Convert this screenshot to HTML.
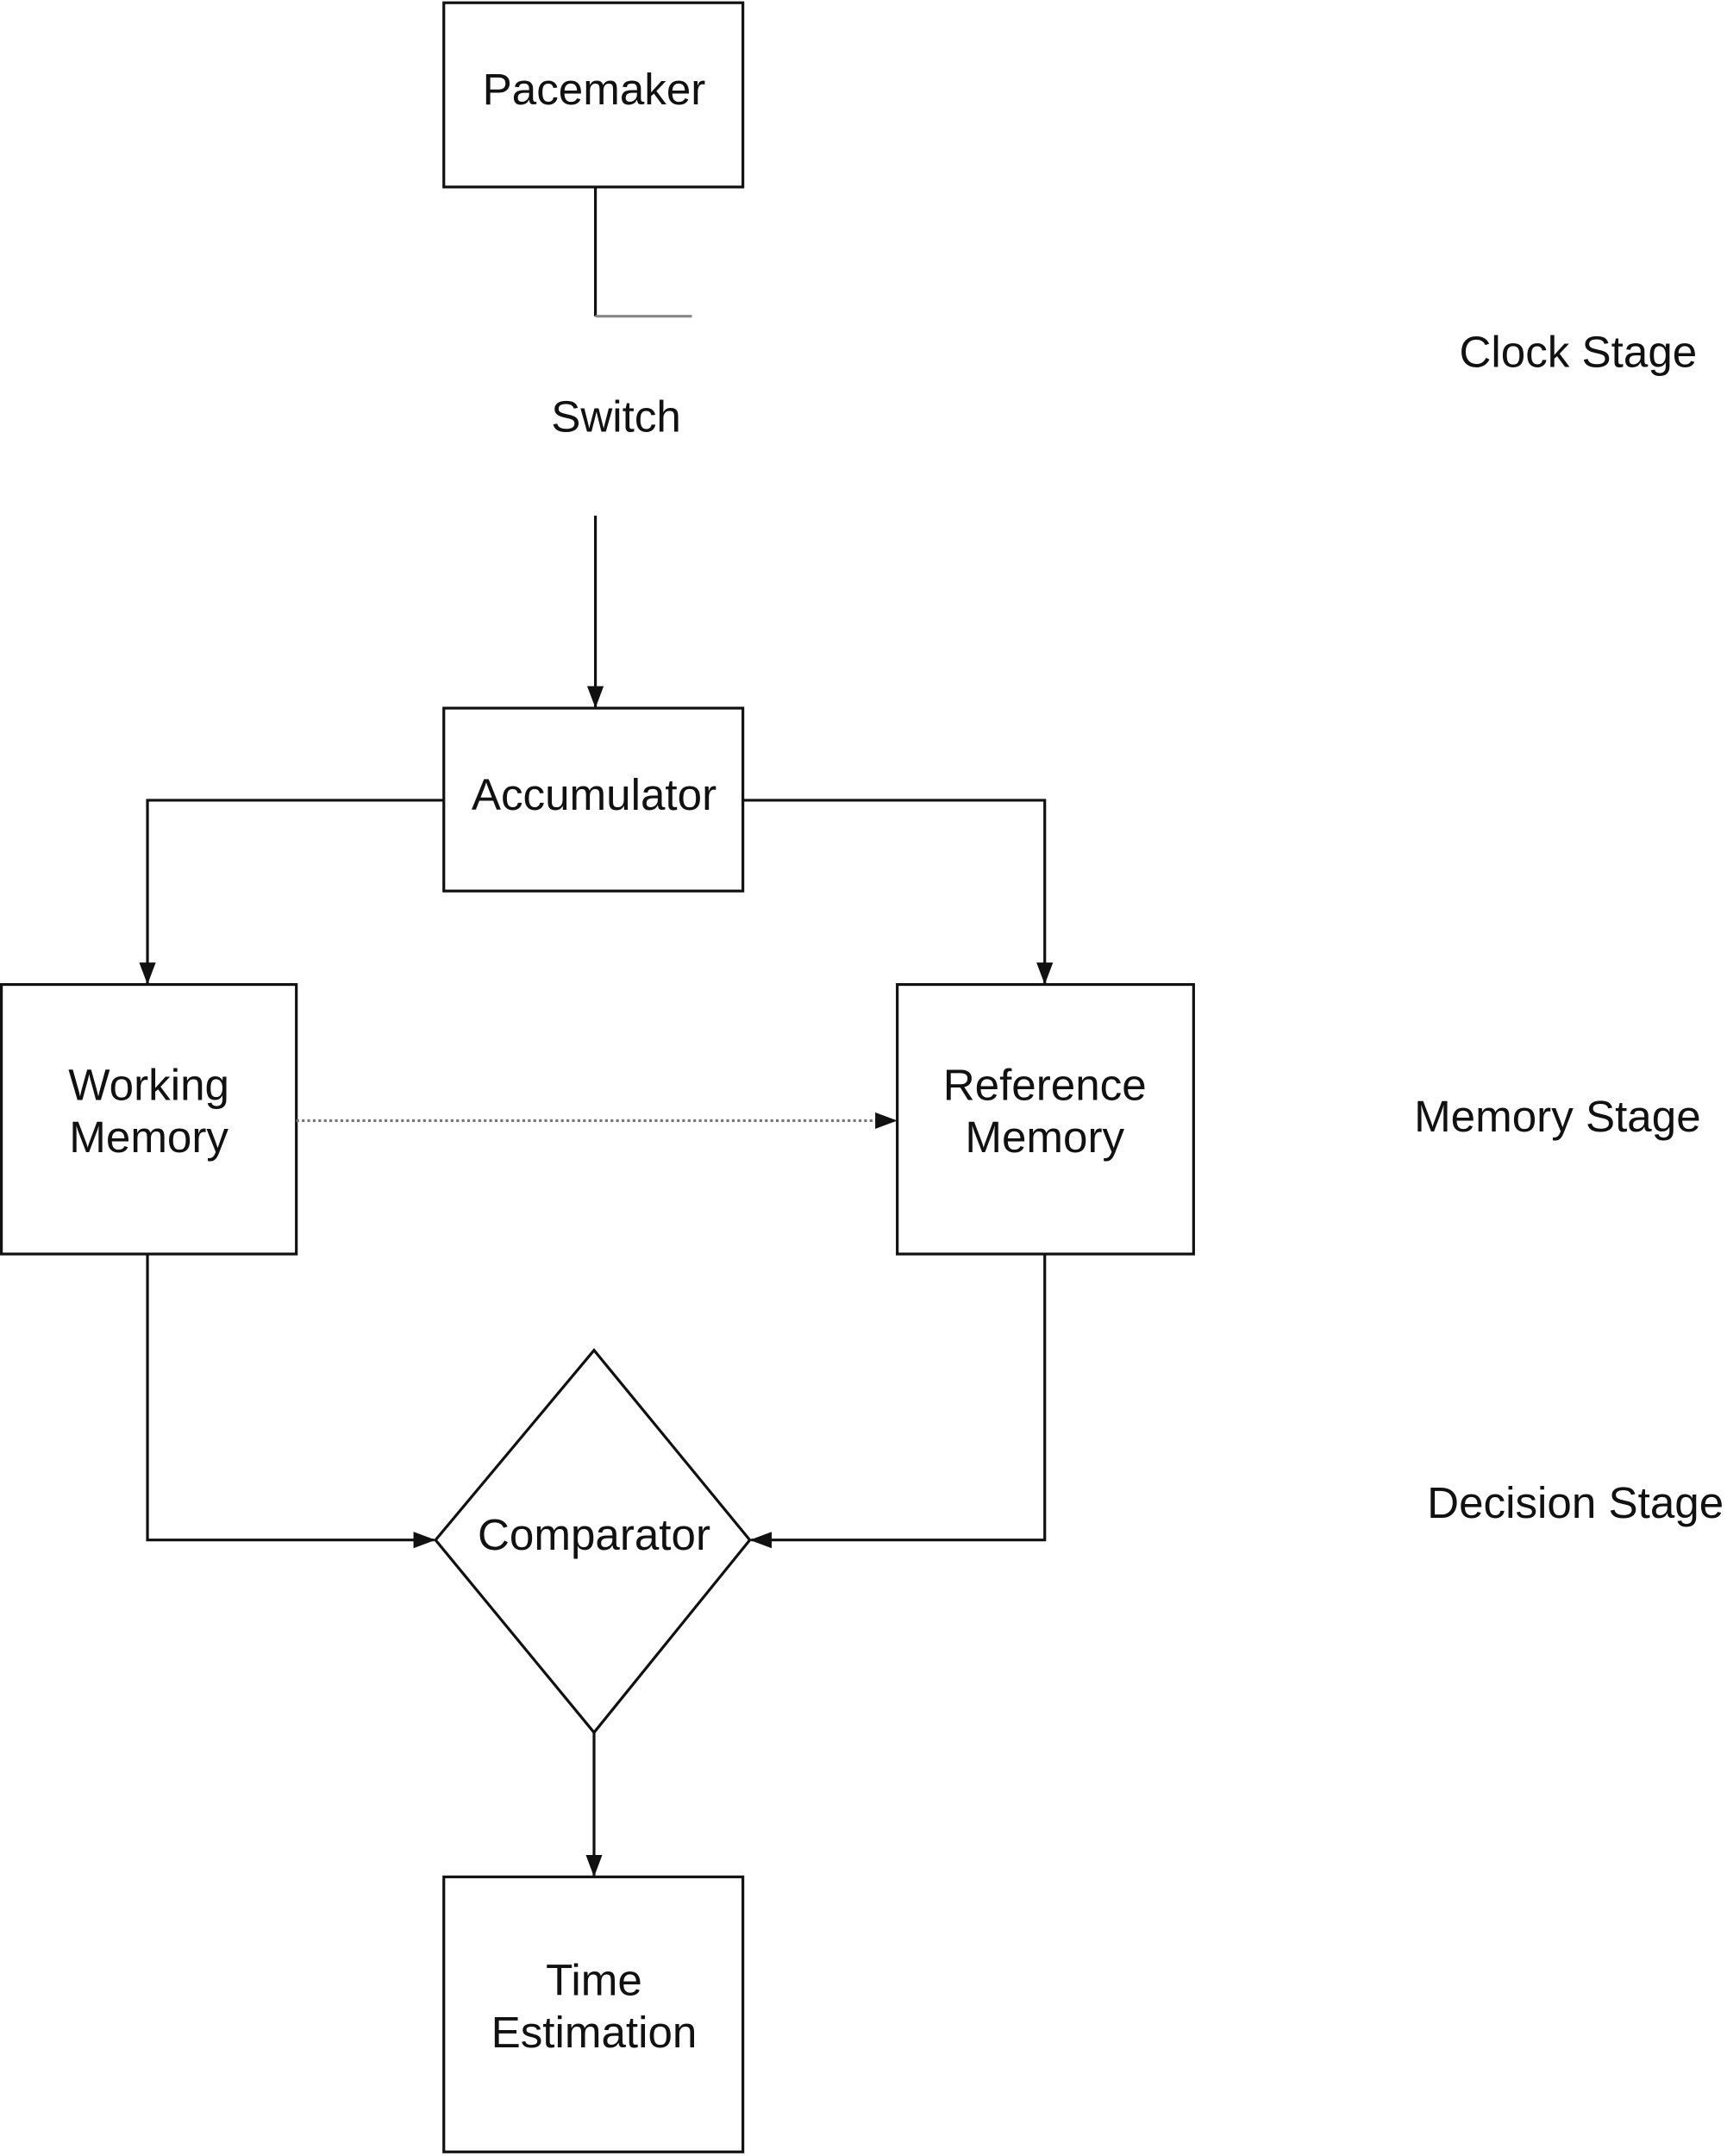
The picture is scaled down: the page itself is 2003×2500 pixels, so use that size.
<!DOCTYPE html>
<html><head><meta charset="utf-8"><style>
html,body{margin:0;padding:0;background:#fff;}
svg{display:block;}
text{font-family:"Liberation Sans",sans-serif;font-size:32px;fill:#111;text-anchor:middle;}
</style></head><body>
<svg width="2003" height="2500" viewBox="0 0 1253 1568" preserveAspectRatio="none" xmlns="http://www.w3.org/2000/svg">
<defs>
<marker id="a" markerWidth="16" markerHeight="14" refX="15" refY="7" orient="auto" markerUnits="userSpaceOnUse">
<path d="M0,1 L16,7 L0,13 Z" fill="#111"/></marker>
</defs>
<g fill="none" stroke="#111" stroke-width="2">
<rect x="322" y="2" width="217" height="134"/>
<rect x="322" y="515" width="217" height="133"/>
<rect x="1" y="716" width="214" height="196"/>
<rect x="651" y="716" width="215" height="196"/>
<rect x="322" y="1365" width="217" height="200"/>
<polygon points="431,982 544,1120 431,1260 316,1120"/>
<polyline points="432,136 432,230"/>
<line x1="432" y1="230" x2="502" y2="230" stroke="#888"/>
<line x1="432" y1="375" x2="432" y2="514" marker-end="url(#a)"/>
<polyline points="322,582 107,582 107,715" marker-end="url(#a)"/>
<polyline points="539,582 758,582 758,715" marker-end="url(#a)"/>
<line x1="215" y1="815" x2="650" y2="815" stroke="#777" stroke-dasharray="2,2" marker-end="url(#a)"/>
<polyline points="107,912 107,1120 315,1120" marker-end="url(#a)"/>
<polyline points="758,912 758,1120 545,1120" marker-end="url(#a)"/>
<line x1="431" y1="1260" x2="431" y2="1364" marker-end="url(#a)"/>
</g>
<text x="431" y="76">Pacemaker</text>
<text x="447" y="314">Switch</text>
<text x="431" y="589">Accumulator</text>
<text x="108" y="800">Working</text>
<text x="108" y="838">Memory</text>
<text x="758" y="800">Reference</text>
<text x="758" y="838">Memory</text>
<text x="431" y="1127">Comparator</text>
<text x="431" y="1451">Time</text>
<text x="431" y="1489">Estimation</text>
<text x="1145" y="267">Clock Stage</text>
<text x="1130" y="823">Memory Stage</text>
<text x="1143" y="1104">Decision Stage</text>
</svg>
</body></html>
